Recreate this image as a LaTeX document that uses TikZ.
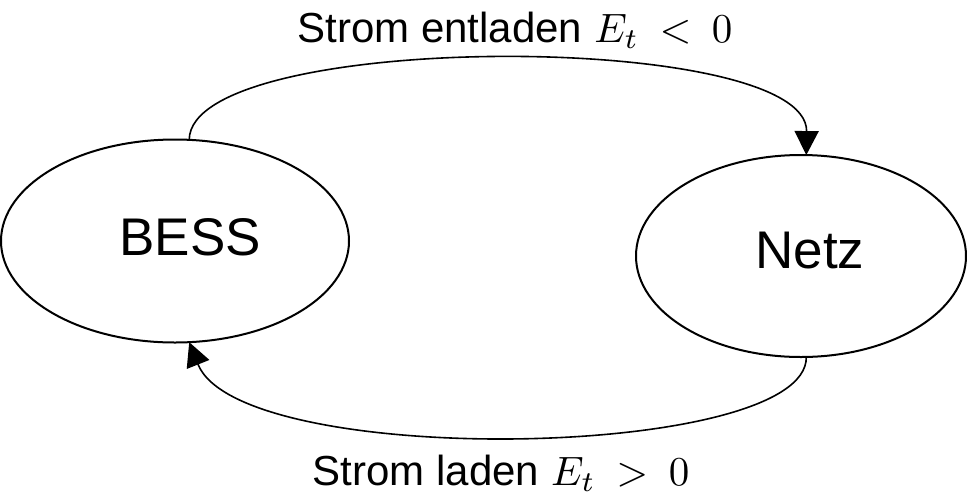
\documentclass[tikz,border=0pt]{standalone}
\usepackage{fontspec}
\setmainfont{Liberation Sans}
\usetikzlibrary{shapes.geometric,arrows.meta}
\newcommand{\bigmath}[1]{{\fontsize{10}{12}\selectfont\scalebox{4.1}{$#1$}}}
\begin{document}
\begin{tikzpicture}[x=1pt,y=-1pt,
  statebox/.style={draw,ellipse,line width=2pt,inner sep=0pt,outer sep=0pt},
  bigtext/.style={font=\fontsize{53}{60}\selectfont,anchor=base,inner sep=0pt},
  lbltext/.style={font=\fontsize{42}{46}\selectfont,anchor=base,inner sep=0pt},
  flow/.style={line width=1.6pt,-{Triangle[length=24pt,width=24pt]}}]
\useasboundingbox (0,0) rectangle (967,499);
\node[statebox,minimum width=348pt,minimum height=203pt] (bess) at (175,241) {};
\node[statebox,minimum width=330pt,minimum height=202pt] (netz) at (801,256) {};
\node[bigtext] (tb) at (190,255) {BESS};
\node[bigtext] (tn) at (810,268) {Netz};
\node[lbltext] (top) at (515,42) {Strom entladen\hspace{12pt}\bigmath{E_t \mkern4mu<\mkern4mu 0}};
\node[lbltext] (bot) at (501,485) {Strom laden\hspace{12pt}\bigmath{E_t \mkern4mu>\mkern4mu 0}};
\draw[flow] (bess.82) .. controls (190,30) and (808,30) .. (netz.87);
\draw[flow] (netz.-87) .. controls (808,460) and (240,470) .. (bess.-82);
\end{tikzpicture}
\end{document}
